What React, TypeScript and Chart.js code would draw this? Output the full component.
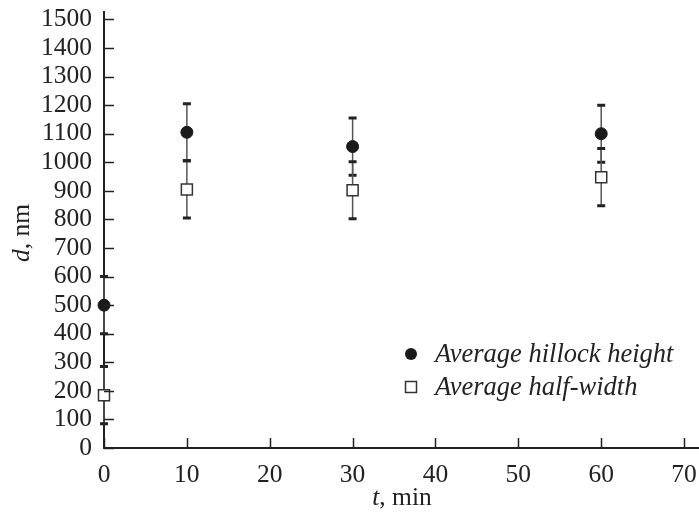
import React, { useEffect, useRef } from "react";
import { Chart, registerables } from "chart.js";

Chart.register(...registerables);

const times = [0, 10, 30, 60];
const heightValues = [500, 1105, 1055, 1100];
const heightErrors = [100, 100, 100, 100];
const widthValues = [185, 905, 902, 948];
const widthErrors = [100, 100, 100, 100];
const seriesLabels = ["Average hillock height", "Average half-width"];
const xTicks = [0, 10, 20, 30, 40, 50, 60, 70];
const yTicks = [0, 100, 200, 300, 400, 500, 600, 700, 800, 900, 1000, 1100, 1200, 1300, 1400, 1500];

const SERIF = "'Liberation Serif', 'Times New Roman', serif";

const customPlugin = {
  id: "customDraw",
  beforeDatasetsDraw(chart: any) {
    const ctx = chart.ctx;
    const xs = chart.scales.x;
    const ys = chart.scales.y;
    ctx.save();
    const drawErr = (vals: number[], errs: number[]) => {
      vals.forEach((v, i) => {
        const px = xs.getPixelForValue(times[i]);
        const top = ys.getPixelForValue(v + errs[i]);
        const bot = ys.getPixelForValue(v - errs[i]);
        ctx.strokeStyle = "#555";
        ctx.lineWidth = 1.5;
        ctx.beginPath();
        ctx.moveTo(px, top);
        ctx.lineTo(px, bot);
        ctx.stroke();
        ctx.strokeStyle = "#222";
        ctx.lineWidth = 3;
        ctx.beginPath();
        ctx.moveTo(px - 4, top);
        ctx.lineTo(px + 4, top);
        ctx.moveTo(px - 4, bot);
        ctx.lineTo(px + 4, bot);
        ctx.stroke();
      });
    };
    drawErr(heightValues, heightErrors);
    drawErr(widthValues, widthErrors);
    ctx.restore();
  },
  afterDraw(chart: any) {
    const ctx = chart.ctx;
    const xs = chart.scales.x;
    const ys = chart.scales.y;
    const area = chart.chartArea;
    ctx.save();
    // inward tick marks
    ctx.strokeStyle = "#222";
    ctx.lineWidth = 1.5;
    ctx.beginPath();
    ys.ticks.forEach((t: any) => {
      const py = Math.round(ys.getPixelForValue(t.value)) + 0.5;
      ctx.moveTo(area.left, py);
      ctx.lineTo(area.left + 10, py);
    });
    xs.ticks.forEach((t: any) => {
      const px = Math.round(xs.getPixelForValue(t.value)) + 0.5;
      ctx.moveTo(px, area.bottom);
      ctx.lineTo(px, area.bottom - 10);
    });
    ctx.stroke();

    // axis titles
    ctx.fillStyle = "#222";
    ctx.textBaseline = "alphabetic";
    const xa = "italic 25.5px " + SERIF;
    const xb = "25.5px " + SERIF;
    ctx.font = xa;
    const wT = ctx.measureText("t").width;
    ctx.font = xb;
    const wRest = ctx.measureText(", min").width;
    const cx = 402;
    const sx = cx - (wT + wRest) / 2;
    ctx.font = xa;
    ctx.textAlign = "left";
    ctx.fillText("t", sx, 505);
    ctx.font = xb;
    ctx.fillText(", min", sx + wT, 505);

    ctx.save();
    ctx.translate(29, 233);
    ctx.rotate(-Math.PI / 2);
    ctx.font = xa;
    const wD = ctx.measureText("d").width;
    ctx.font = xb;
    const wR2 = ctx.measureText(", nm").width;
    const sy = -(wD + wR2) / 2;
    ctx.font = xa;
    ctx.fillText("d", sy, 0);
    ctx.font = xb;
    ctx.fillText(", nm", sy + wD, 0);
    ctx.restore();

    // legend
    const lx = 411;
    const rows = [354, 387];
    ctx.fillStyle = "#1a1a1a";
    ctx.beginPath();
    ctx.arc(lx, rows[0], 6, 0, Math.PI * 2);
    ctx.fill();
    ctx.fillStyle = "#fff";
    ctx.strokeStyle = "#333";
    ctx.lineWidth = 1.5;
    ctx.fillRect(lx - 5.5, rows[1] - 5.5, 11, 11);
    ctx.strokeRect(lx - 5.5, rows[1] - 5.5, 11, 11);
    ctx.fillStyle = "#222";
    ctx.font = "italic 26.5px " + SERIF;
    ctx.textAlign = "left";
    ctx.fillText(seriesLabels[0], 435, 362);
    ctx.fillText(seriesLabels[1], 435, 395);
    ctx.restore();
  },
};

const zeroPad = (s: any) => {
  s.paddingTop = 0;
  s.paddingBottom = 0;
  s.paddingLeft = 0;
  s.paddingRight = 0;
};

export default function App() {
  const ref = useRef<HTMLCanvasElement>(null);
  useEffect(() => {
    document.body.style.margin = "0";
    document.body.style.overflow = "hidden";
    let chart: any = null;
    let cancelled = false;
    const build = () => {
      if (cancelled || !ref.current) return;
      chart = new Chart(ref.current as HTMLCanvasElement, {
        type: "scatter",
        data: {
          datasets: [
            {
              label: seriesLabels[0],
              data: times.map((t, i) => ({ x: t, y: heightValues[i] })),
              pointStyle: "circle",
              pointRadius: 6,
              backgroundColor: "#1a1a1a",
              borderColor: "#1a1a1a",
              borderWidth: 1,
              clip: false,
            },
            {
              label: seriesLabels[1],
              data: times.map((t, i) => ({ x: t, y: widthValues[i] })),
              pointStyle: "rect",
              pointRadius: 7.8,
              backgroundColor: "#ffffff",
              borderColor: "#333",
              borderWidth: 1.5,
              clip: false,
            },
          ],
        },
        options: {
          animation: false,
          responsive: false,
          layout: { autoPadding: false, padding: { top: 12, right: 0, left: 0, bottom: 0 } },
          plugins: { legend: { display: false }, tooltip: { enabled: false } },
          scales: {
            x: {
              type: "linear",
              min: 0,
              max: 71.8,
              grid: { display: false, drawTicks: false },
              border: { display: true, color: "#222", width: 2 },
              ticks: {
                autoSkip: false,
                maxRotation: 0,
                padding: 12,
                color: "#222",
                font: { family: SERIF, size: 25.5 },
                callback: (v: any) => String(v),
              },
              afterBuildTicks: (s: any) => {
                s.ticks = xTicks.map((v) => ({ value: v }));
              },
              afterFit: (s: any) => {
                s.height = 71;
                zeroPad(s);
              },
            },
            y: {
              type: "linear",
              min: 0,
              max: 1526,
              grid: { display: false, drawTicks: false },
              border: { display: true, color: "#222", width: 2 },
              ticks: {
                autoSkip: false,
                padding: 12,
                color: "#222",
                font: { family: SERIF, size: 25.5 },
                callback: (v: any) => String(v),
              },
              afterBuildTicks: (s: any) => {
                s.ticks = yTicks.map((v) => ({ value: v }));
              },
              afterFit: (s: any) => {
                s.width = 104;
                zeroPad(s);
              },
            },
          },
        },
        plugins: [customPlugin],
      } as any);
    };
    const fonts: any = (document as any).fonts;
    if (fonts && fonts.load) {
      Promise.all([
        fonts.load("24px 'Liberation Serif'"),
        fonts.load("italic 24px 'Liberation Serif'"),
      ])
        .catch(() => null)
        .then(build);
    } else {
      build();
    }
    return () => {
      cancelled = true;
      if (chart) chart.destroy();
    };
  }, []);
  return (
    <div style={{ width: 699, height: 519, background: "#fff" }}>
      <canvas ref={ref} width={699} height={519} />
    </div>
  );
}
